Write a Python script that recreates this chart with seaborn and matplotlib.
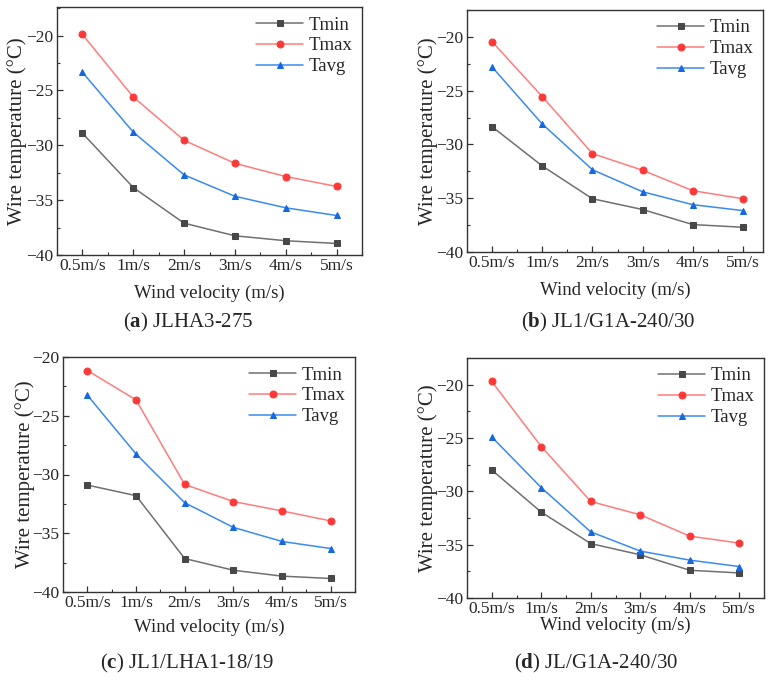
import numpy as np
import pandas as pd
import matplotlib
matplotlib.use('Agg')
import matplotlib.pyplot as plt
import seaborn as sns
from matplotlib.ticker import MultipleLocator

# data
wind = ['0.5m/s', '1m/s', '2m/s', '3m/s', '4m/s', '5m/s']

tmin_a = [-28.9, -33.85, -37.1, -38.25, -38.7, -38.95]
tmax_a = [-19.9, -25.6, -29.55, -31.65, -32.85, -33.75]
tavg_a = [-23.35, -28.8, -32.7, -34.65, -35.7, -36.4]

tmin_b = [-28.35, -32.0, -35.05, -36.05, -37.45, -37.7]
tmax_b = [-20.45, -25.55, -30.85, -32.4, -34.3, -35.05]
tavg_b = [-22.8, -28.1, -32.35, -34.4, -35.6, -36.15]

tmin_c = [-30.9, -31.8, -37.15, -38.15, -38.65, -38.85]
tmax_c = [-21.15, -23.65, -30.85, -32.3, -33.1, -33.95]
tavg_c = [-23.25, -28.25, -32.4, -34.5, -35.7, -36.3]

tmin_d = [-28.0, -31.95, -34.9, -35.95, -37.4, -37.65]
tmax_d = [-19.7, -25.8, -30.95, -32.2, -34.2, -34.85]
tavg_d = [-24.9, -29.65, -33.8, -35.6, -36.45, -37.05]

captions = ['a', 'b', 'c', 'd']
names = ['JLHA3-275', 'JL1/G1A-240/30', 'JL1/LHA1-18/19', 'JL/G1A-240/30']

sns.set_style('white')
plt.rcParams['font.family'] = ['Liberation Serif', 'DejaVu Serif']
plt.rcParams['mathtext.fontset'] = 'custom'
plt.rcParams['mathtext.rm'] = 'Liberation Serif'
plt.rcParams['mathtext.bf'] = 'Liberation Serif:bold'

fig = plt.figure(figsize=(7.81, 6.81), dpi=100)

# axes boxes in pixels: left, top, right, bottom
boxes = [(57, 7, 362, 255), (467, 10, 763, 252),
         (63, 357, 355, 592), (467, 358, 764, 598)]
ytops = [-17.4, -17.5, -20.0, -17.5]
xrights = [5.5, 5.4, 5.5, 5.5]
cap_pos = [(188, 322), (608, 322), (187, 663), (596, 663)]
ylab_x = [17, 428, 25, 428]
xlab_y = [293, 290, 627, 625]

panels = [(tmin_a, tmax_a, tavg_a), (tmin_b, tmax_b, tavg_b),
          (tmin_c, tmax_c, tavg_c), (tmin_d, tmax_d, tavg_d)]

styles = [('Tmin', 's', '#707070', '#484848'),
          ('Tmax', 'o', '#ff7c7c', '#ff3838'),
          ('Tavg', '^', '#3a8af0', '#1668e0')]

W, H = 781, 681
x = np.arange(len(wind))
for i, (tmin, tmax, tavg) in enumerate(panels):
    l, t, r, b = boxes[i]
    ax = fig.add_axes([l / W, 1 - b / H, (r - l) / W, (b - t) / H])
    for (lab, mk, lc, mc), vals in zip(styles, (tmin, tmax, tavg)):
        sns.lineplot(x=x, y=vals, ax=ax, color=lc, marker=mk, markersize=5,
                     markerfacecolor=mc, markeredgecolor=mc, linewidth=1.1,
                     label=lab)
    ax.set_xlim(-0.5, xrights[i])
    ax.set_ylim(-40, ytops[i])
    ax.set_xticks(x)
    ax.set_xticklabels(wind)
    ax.xaxis.set_minor_locator(MultipleLocator(0.5))
    ax.yaxis.set_major_locator(MultipleLocator(5))
    ax.yaxis.set_minor_locator(MultipleLocator(2.5))
    ax.tick_params(which='both', direction='in', color='#333333',
                   labelsize=12.5, pad=2.5, bottom=True, left=True,
                   top=False, right=False)
    ax.tick_params(which='major', length=4.5, width=0.9)
    ax.tick_params(which='minor', length=2.5, width=0.8)
    for s in ax.spines.values():
        s.set_color('#333333')
        s.set_linewidth(1.0)
    ax.set_xlabel('Wind velocity (m/s)', fontsize=13.5, va='center')
    ax.xaxis.set_label_coords(0.5, (b - xlab_y[i]) / (b - t))
    ax.set_ylabel('Wire temperature (°C)', fontsize=15, va='center')
    ax.yaxis.set_label_coords((ylab_x[i] - l) / (r - l), 0.5)
    ax.legend(loc='upper right', frameon=False, fontsize=13.5,
              handlelength=2.5, handletextpad=0.3, labelspacing=0.2,
              borderaxespad=0.1)
    cx, cy = cap_pos[i]
    fig.text(cx / W, 1 - cy / H, r'($\mathbf{%s}$) %s' % (captions[i], names[i]),
             ha='center', va='center', fontsize=15)

fig.savefig('out.png', dpi=100)
